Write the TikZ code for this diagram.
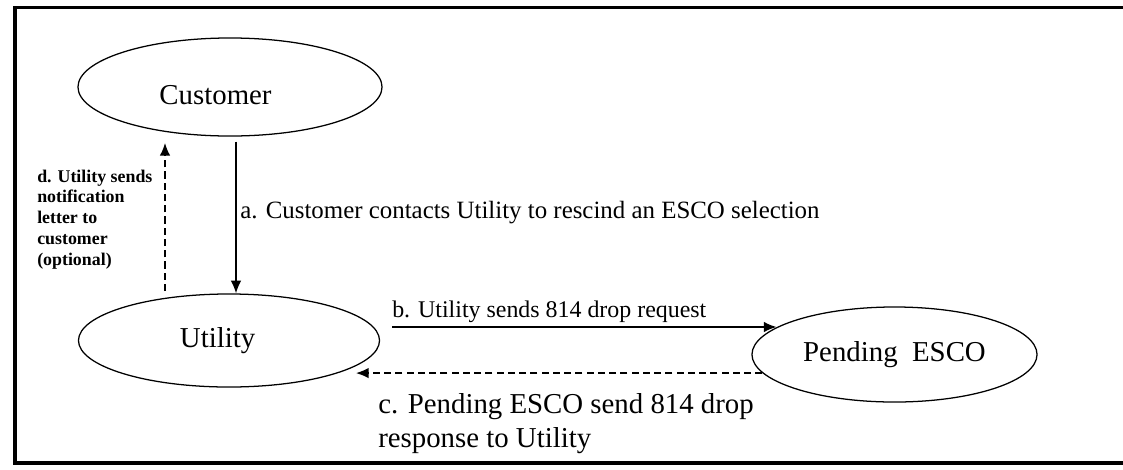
\documentclass[tikz,border=0pt]{standalone}
\usepackage{fontspec}
\setmainfont{Liberation Serif}
\usetikzlibrary{arrows.meta,calc,shapes.geometric}
\tikzset{%
	party/.style = {draw, ellipse, line width=0.9pt, inner sep=0pt, font=\fontsize{20.5}{24}\selectfont},
	msg/.style   = {inner sep=0pt, font=\fontsize{17.7}{21}\selectfont},
	flow/.style  = {line width=1pt, -{Latex[length=9pt,width=7.5pt]}},
	back/.style  = {flow, dash pattern=on 5pt off 3pt},
	frame/.style = {line width=2.8pt},
}

\begin{document}
\begin{tikzpicture}[x=0.025cm, y=-0.025cm]
	\useasboundingbox (0,0) rectangle (1123,469);
	\draw[frame] (1130,7.5) -| (15,463) -- (1130,463);
	
	\node[party, minimum width=7.6cm, minimum height=2.45cm, text width=3.525cm, align=left, text height=0.85cm, text depth=0pt] (cust) at (230,87) {Customer};
	\node[party, minimum width=7.525cm, minimum height=2.325cm, text width=2.45cm, align=left] (util) at (229,340.5) {Utility};
	\node[party, minimum width=7.125cm, minimum height=2.375cm] (pend) at (894.5,354.5) {Pending\ \ ESCO};
	
	\coordinate (aX) at (236,0);
	\coordinate (bS) at (392,327);
	\coordinate (cE) at (356,0);
	\coordinate (dS) at (165,291);
	\coordinate (dE) at (165,143);
	
	\draw[flow] ($(cust.south -| aX)+(0,5)$) -- (util.north -| aX);
	\draw[flow] (bS) -- (bS -| pend.167);
	\draw[back] (pend.188) -- (pend.188 -| cE);
	\draw[back] (dS) -- (dE);
	
	\node[msg, anchor=base west] (lblA) at (240,218) {a. Customer contacts Utility to rescind an ESCO selection};
	\node[msg, font=\fontsize{17}{20}\selectfont, anchor=base west] (lblB) at (392,317) {b. Utility sends 814 drop request};
	\node[msg, font=\fontsize{20.5}{24.2}\selectfont, align=left, anchor=north west] (lblC) at (378,393.5) {c. Pending ESCO send 814 drop\\response to Utility};
	\node[msg, font=\bfseries\fontsize{12.7}{14.8}\selectfont, align=left, anchor=north west] (lblD) at (37,169.5) {d. Utility sends\\notification\\letter to\\customer\\(optional)};
\end{tikzpicture}
\end{document}
